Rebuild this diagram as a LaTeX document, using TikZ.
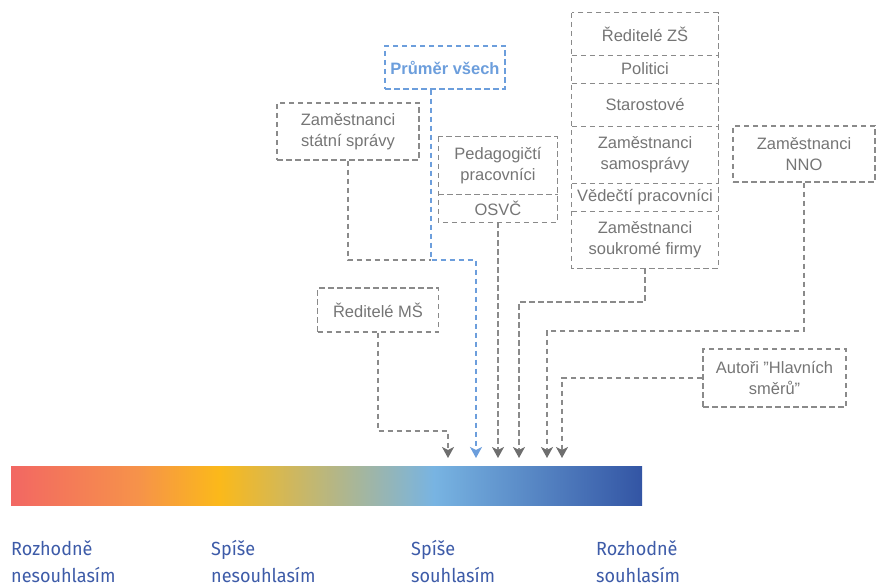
\documentclass[tikz,border=0pt]{standalone}
\usepackage{fontspec}
\setmainfont{Liberation Sans}
\newfontfamily\scalefont[FakeStretch=0.95]{Fira Sans}
\usetikzlibrary{arrows.meta}

\definecolor{boxgray}{HTML}{8A8A8A}
\definecolor{txtgray}{HTML}{757575}
\definecolor{avgblue}{HTML}{6C9EDC}
\definecolor{lblblue}{HTML}{3D5BA8}
\definecolor{gRed}{HTML}{F26763}
\definecolor{gOrange}{HTML}{F6924A}
\definecolor{gYellow}{HTML}{FBB91A}
\definecolor{gLight}{HTML}{78B4E2}
\definecolor{gDark}{HTML}{3355A4}
\definecolor{arrowgray}{HTML}{6E6E6E}

% agreement scale: red -> orange -> yellow -> light blue -> dark blue
\pgfdeclarehorizontalshading{agreescale}{100bp}{%
  color(0bp)=(gRed); color(25bp)=(gRed); color(35bp)=(gOrange);
  color(41.5bp)=(gYellow); color(58.5bp)=(gLight);
  color(75bp)=(gDark); color(100bp)=(gDark)}

\tikzset{
  dashline/.style={line width=1.3pt, dash pattern=on 5.5pt off 3.5pt},
  cell/.style={inner sep=0pt, align=center, text=txtgray,
    font=\fontsize{16.5}{21}\selectfont},
  group/.style={cell, draw=boxgray, dashline},
  avgbox/.style={draw=avgblue, dashline, inner sep=0pt, align=center, text=avgblue,
    font=\fontsize{16.5}{21}\selectfont\bfseries},
  link/.style={draw=boxgray, dashline},
  pointer/.style={link, -{Stealth[length=11pt,width=12pt,inset=3pt,color=arrowgray]}},
  avgpointer/.style={draw=avgblue, dashline,
    -{Stealth[length=11pt,width=12pt,inset=3pt,color=avgblue]}},
  scalelabel/.style={anchor=north west, inner sep=0pt, align=left, text=lblblue,
    font=\scalefont\fontsize{19}{27}\selectfont}
}

\begin{document}
\begin{tikzpicture}[x=1pt,y=-1pt]
\useasboundingbox (0,0) rectangle (882,585);

% colour scale
\shade[shading=agreescale] (11,466) rectangle (642,505);

% scale labels
\node[scalelabel] (l1) at (11,540) {Rozhodně\\nesouhlasím};
\node[scalelabel] (l2) at (211,540) {Spíše\\nesouhlasím};
\node[scalelabel] (l3) at (411,540) {Spíše\\souhlasím};
\node[scalelabel] (l4) at (596,540) {Rozhodně\\souhlasím};

% single groups
\node[avgbox, minimum width=120pt, minimum height=43pt] (prum) at (445,67.5) {Průměr všech};
\node[group, minimum width=142pt, minimum height=57pt] (stat) at (348,131.5) {Zaměstnanci\\státní správy};
\node[group, minimum width=142pt, minimum height=56pt] (nno) at (804,154) {Zaměstnanci\\NNO};
\node[group, minimum width=121pt, minimum height=44pt] (ms) at (378,310) {Ředitelé MŠ};
\node[group, minimum width=143pt, minimum height=58pt] (aut) at (774.5,378) {Autoři "Hlavních\\směrů"};

% two-cell group
\node[cell, minimum width=119pt, minimum height=57pt] (ped) at (498,165.5) {Pedagogičtí\\pracovníci};
\node[cell, minimum width=119pt, minimum height=28pt] (osvc) at (498,208) {OSVČ};
\draw[link] (ped.north west) rectangle (osvc.south east);
\draw[link] (ped.south west) -- (ped.south east);

% six-cell group
\node[cell, minimum width=146pt, minimum height=42pt] (zs) at (645,34) {Ředitelé ZŠ};
\node[cell, minimum width=146pt, minimum height=28pt] (pol) at (645,69) {Politici};
\node[cell, minimum width=146pt, minimum height=43pt] (star) at (645,104.5) {Starostové};
\node[cell, minimum width=146pt, minimum height=57pt] (samo) at (645,154.5) {Zaměstnanci\\samosprávy};
\node[cell, minimum width=146pt, minimum height=28pt] (ved) at (645,197) {Vědečtí pracovníci};
\node[cell, minimum width=146pt, minimum height=57pt] (souk) at (645,239.5) {Zaměstnanci\\soukromé firmy};
\draw[link] (zs.north west) rectangle (souk.south east);
\foreach \c in {zs,pol,star,samo,ved}
  \draw[link] (\c.south west) -- (\c.south east);

% bends and arrow targets above the scale
\coordinate (jAvg) at (431,260);
\coordinate (bMS) at (448,431);
\coordinate (bSouk) at (519,302);
\coordinate (bNNO) at (547,331);
\coordinate (tMS) at (448,458);
\coordinate (tAvg) at (476,458);
\coordinate (tOsvc) at (498,458);
\coordinate (tSouk) at (519,458);
\coordinate (tNNO) at (547,458);
\coordinate (tAut) at (562,458);

% connectors
\draw[link] (stat.south) |- (jAvg);
\draw[pointer] (ms.south) |- (bMS) -- (tMS);
\draw[pointer] (osvc.south) -- (tOsvc);
\draw[pointer] (souk.south) |- (bSouk) -- (tSouk);
\draw[pointer] (nno.south) |- (bNNO) -- (tNNO);
\draw[pointer] (aut.west) -| (tAut);
\draw[avgpointer] (prum.south -| jAvg) -- (jAvg) -| (tAvg);
\end{tikzpicture}
\end{document}
